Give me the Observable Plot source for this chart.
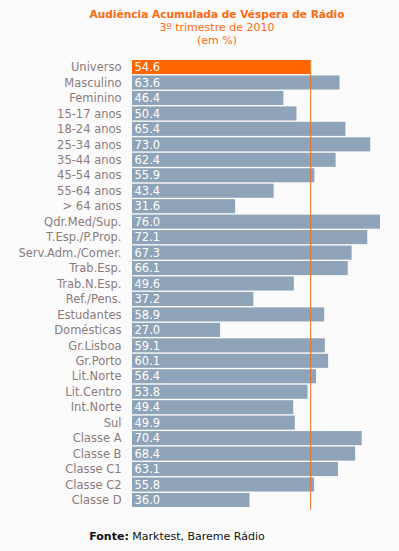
<!DOCTYPE html>
<html>
<head>
<meta charset="utf-8">
<script src="https://cdn.jsdelivr.net/npm/d3@7"></script>
<script src="https://cdn.jsdelivr.net/npm/@observablehq/plot@0.6"></script>
<style>
  html, body { margin: 0; padding: 0; background: #fbfbfb; width: 399px; height: 551px; overflow: hidden; }
  #title { box-sizing: border-box; height: 50px; padding: 8px 0 0 35px; text-align: center; color: #ff6a10;
           font-family: "DejaVu Sans", Verdana, sans-serif; font-size: 11px; line-height: 13px; }
  #title b { font-weight: bold; font-size: 10.6px; }
  #chart svg { display: block; }
  #source { box-sizing: border-box; height: 31px; padding: 10px 45px 0 0; text-align: center; color: #111;
            font-family: "DejaVu Sans", Verdana, sans-serif; font-size: 11px; line-height: 13px; }
</style>
</head>
<body>
<div id="title"><b>Audiência Acumulada de Véspera de Rádio</b><br>3º trimestre de 2010<br>(em %)</div>
<div id="chart"></div>
<div id="source"><b>Fonte:</b> Marktest, Bareme Rádio</div>
<script>
const categories = ["Universo","Masculino","Feminino","15-17 anos","18-24 anos","25-34 anos","35-44 anos","45-54 anos","55-64 anos","> 64 anos","Qdr.Med/Sup.","T.Esp./P.Prop.","Serv.Adm./Comer.","Trab.Esp.","Trab.N.Esp.","Ref./Pens.","Estudantes","Domésticas","Gr.Lisboa","Gr.Porto","Lit.Norte","Lit.Centro","Int.Norte","Sul","Classe A","Classe B","Classe C1","Classe C2","Classe D"];
const values = [54.6,63.6,46.4,50.4,65.4,73.0,62.4,55.9,43.4,31.6,76.0,72.1,67.3,66.1,49.6,37.2,58.9,27.0,59.1,60.1,56.4,53.8,49.4,49.9,70.4,68.4,63.1,55.8,36.0];
const reference = [54.6];

const data = categories.map((c, i) => ({category: c, value: values[i], highlight: c === "Universo"}));

const chart = Plot.plot({
  width: 399,
  height: 470,
  marginLeft: 132,
  marginRight: 19,
  marginTop: 10,
  marginBottom: 10,
  style: {background: "#fbfbfb", fontFamily: "'DejaVu Sans', Verdana, sans-serif", fontSize: "11.5px"},
  x: {domain: [0, 76], axis: null},
  y: {domain: categories, range: [10, 457], paddingInner: 0.09, paddingOuter: 0, round: false, label: null},
  marks: [
    Plot.barX(data, {x: "value", y: "category", fill: d => d.highlight ? "#ff6600" : "#8fa4b8"}),
    Plot.text(data, {x: 0, y: "category", text: d => d.value.toFixed(1), textAnchor: "start", dx: 2, fill: "white", fontSize: 11.5}),
    Plot.ruleX(reference, {stroke: "#e8732a", strokeWidth: 1}),
    Plot.axisY({tickSize: 0, tickPadding: 11, fill: "#8c7b7b", fontSize: 11.5, label: null})
  ]
});
document.getElementById("chart").appendChild(chart);
</script>
</body>
</html>
